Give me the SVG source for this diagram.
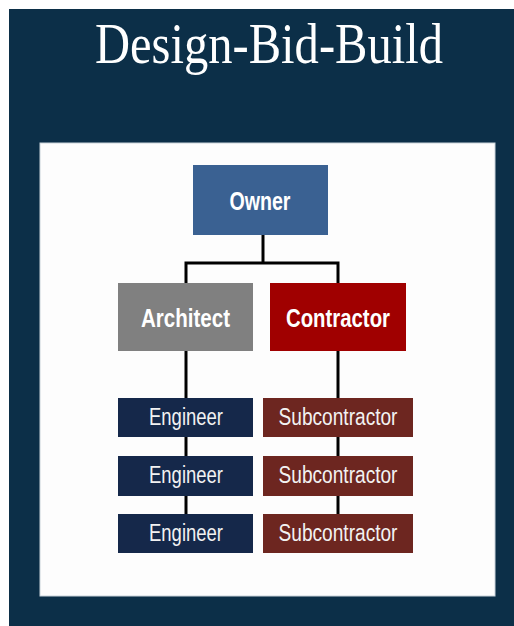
<svg xmlns="http://www.w3.org/2000/svg" width="514" height="626" viewBox="0 0 514 626">
  <style>
    .title { font-family: "Liberation Serif", "DejaVu Serif", serif; font-size: 58px; fill: #ffffff; }
    .head { font-family: "Liberation Sans Narrow", "Liberation Sans", Arial, sans-serif; font-weight: bold; fill: #ffffff; text-anchor: middle; }
    .sub { font-family: "Liberation Sans Narrow", "Liberation Sans", Arial, sans-serif; font-size: 23px; fill: #f2f2f2; text-anchor: middle; }
    .wire { stroke: #000000; stroke-width: 3; fill: none; }
  </style>

  <!-- page background and white panel -->
  <rect x="0" y="0" width="514" height="626" fill="#ffffff"/>
  <rect x="9" y="9" width="505" height="617" fill="#0c2f48"/>
  <rect x="40" y="143" width="455" height="453" fill="#fdfdfd" stroke="#c9d3da" stroke-width="1"/>

  <text class="title" x="95" y="63" textLength="348" lengthAdjust="spacingAndGlyphs">Design-Bid-Build</text>

  <!-- connectors -->
  <g id="connectors">
    <polyline class="wire" points="263,234 263,263"/>
    <polyline class="wire" points="186,283 186,263 338,263 338,283"/>
    <line class="wire" x1="186" y1="351" x2="186" y2="514"/>
    <line class="wire" x1="338" y1="351" x2="338" y2="514"/>
  </g>

  <g id="owner">
    <rect x="193" y="165" width="135" height="70" fill="#3a6192"/>
    <text class="head" x="260" y="210" font-size="25" textLength="61" lengthAdjust="spacingAndGlyphs">Owner</text>
  </g>

  <g id="architect">
    <rect x="118" y="283" width="135" height="68" fill="#808080"/>
    <text class="head" x="185.5" y="327" font-size="26" textLength="89" lengthAdjust="spacingAndGlyphs">Architect</text>
  </g>

  <g id="contractor">
    <rect x="270" y="283" width="136" height="68" fill="#a00000"/>
    <text class="head" x="338" y="327" font-size="26" textLength="104" lengthAdjust="spacingAndGlyphs">Contractor</text>
  </g>

  <g id="engineer-1">
    <rect x="118" y="398" width="135" height="39" fill="#15284a"/>
    <text class="sub" x="186" y="425" textLength="74" lengthAdjust="spacingAndGlyphs">Engineer</text>
  </g>
  <g id="engineer-2">
    <rect x="118" y="456" width="135" height="40" fill="#15284a"/>
    <text class="sub" x="186" y="483" textLength="74" lengthAdjust="spacingAndGlyphs">Engineer</text>
  </g>
  <g id="engineer-3">
    <rect x="118" y="514" width="135" height="39" fill="#15284a"/>
    <text class="sub" x="186" y="541" textLength="74" lengthAdjust="spacingAndGlyphs">Engineer</text>
  </g>

  <g id="subcontractor-1">
    <rect x="263" y="398" width="150" height="39" fill="#6d2620"/>
    <text class="sub" x="338" y="425" textLength="119" lengthAdjust="spacingAndGlyphs">Subcontractor</text>
  </g>
  <g id="subcontractor-2">
    <rect x="263" y="456" width="150" height="40" fill="#6d2620"/>
    <text class="sub" x="338" y="483" textLength="119" lengthAdjust="spacingAndGlyphs">Subcontractor</text>
  </g>
  <g id="subcontractor-3">
    <rect x="263" y="514" width="150" height="39" fill="#6d2620"/>
    <text class="sub" x="338" y="541" textLength="119" lengthAdjust="spacingAndGlyphs">Subcontractor</text>
  </g>
</svg>
